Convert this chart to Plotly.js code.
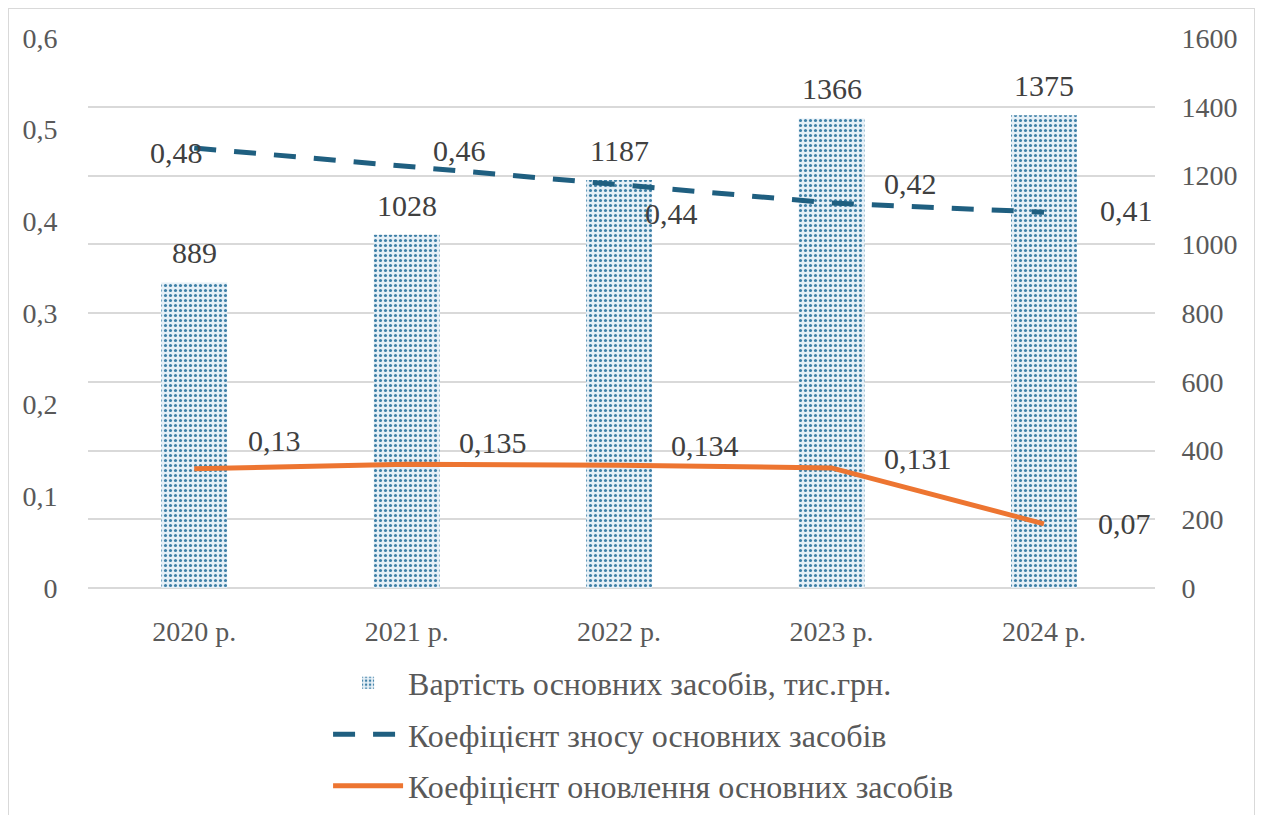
<!DOCTYPE html>
<html>
<head>
<meta charset="utf-8">
<script src="https://cdn.plot.ly/plotly-3.0.1.min.js"></script>
<style>
html,body{margin:0;padding:0;background:#fff;overflow:hidden;}
#chart{position:absolute;left:8px;top:8px;width:1245px;height:812px;border:1px solid #d9d9d9;}
</style>
</head>
<body>
<div id="chart"></div>
<script>
const years = ['2020 р.', '2021 р.', '2022 р.', '2023 р.', '2024 р.'];
const assetValue = [889, 1028, 1187, 1366, 1375];
const wearCoef = [0.48, 0.46, 0.44, 0.42, 0.41];
const renewCoef = [0.13, 0.135, 0.134, 0.131, 0.07];
const leftTicks = [0, 0.1, 0.2, 0.3, 0.4, 0.5, 0.6];
const rightTicks = [0, 200, 400, 600, 800, 1000, 1200, 1400, 1600];
const seriesNames = ['Вартість основних засобів, тис.грн.', 'Коефіцієнт зносу основних засобів', 'Коефіцієнт оновлення основних засобів'];

const fmt = v => String(v).replace('.', ',');
const FONT = "'Liberation Serif', 'DejaVu Serif', serif";
const labelFont = {family: FONT, size: 30, color: '#404040'};

const traces = [
  {
    type: 'bar', x: years, y: assetValue, name: seriesNames[0], yaxis: 'y', width: 0.31,
    legendgroup: 'a',
    marker: {color: '#ffffff', line: {width: 0},
      pattern: {shape: '.', fgcolor: '#3d7fa6', bgcolor: '#e6f0f7', size: 5, solidity: 0.3}},
    hoverinfo: 'skip'
  },
  {
    type: 'scatter', mode: 'lines', x: years, y: wearCoef, name: seriesNames[1], yaxis: 'y2',
    legendgroup: 'b',
    line: {color: '#1f5f80', width: 5, dash: '22px,18px'}, hoverinfo: 'skip'
  },
  {
    type: 'scatter', mode: 'lines', x: years, y: renewCoef, name: seriesNames[2], yaxis: 'y2',
    legendgroup: 'c',
    line: {color: '#ed7531', width: 5}, hoverinfo: 'skip'
  }
];

const annotations = [];
years.forEach((c, i) => {
  annotations.push({x: c, y: assetValue[i], xref: 'x', yref: 'y', text: fmt(assetValue[i]),
    showarrow: false, yanchor: 'bottom', yshift: 11, font: labelFont});
});
const wearShift = [[11, -4, 'right'], [24, 16, 'left'], [24, -29, 'left'], [50, 20, 'left'], [54, 2, 'left']];
years.forEach((c, i) => {
  const s = wearShift[i];
  annotations.push({x: c, y: wearCoef[i], xref: 'x', yref: 'y2', text: fmt(wearCoef[i]),
    showarrow: false, xanchor: s[2], xshift: s[0], yshift: s[1], font: labelFont});
});
const renewShift = [[52, 28], [50, 22], [50, 20], [50, 9], [52, 0]];
years.forEach((c, i) => {
  const s = renewShift[i];
  annotations.push({x: c, y: renewCoef[i], xref: 'x', yref: 'y2', text: fmt(renewCoef[i]),
    showarrow: false, xanchor: 'left', xshift: s[0], yshift: s[1], font: labelFont});
});

const layout = {
  width: 1245, height: 812,
  margin: {l: 79, r: 99, t: 29, b: 233},
  paper_bgcolor: '#ffffff', plot_bgcolor: '#ffffff',
  separators: ', ',
  font: {family: FONT, size: 28, color: '#595959'},
  showlegend: true,
  xaxis: {type: 'category', showgrid: false, zeroline: false, showline: false,
    ticks: 'outside', ticklen: 18, tickcolor: 'rgba(0,0,0,0)',
    tickfont: {family: FONT, size: 28, color: '#595959'}},
  yaxis: {side: 'right', range: [0, 1600], tickvals: rightTicks, ticktext: rightTicks.map(String),
    showgrid: true, gridcolor: '#d9d9d9', gridwidth: 2, zeroline: true, zerolinecolor: '#d9d9d9', zerolinewidth: 2,
    showline: false,
    ticks: 'outside', ticklen: 20, tickcolor: 'rgba(0,0,0,0)',
    tickfont: {family: FONT, size: 28, color: '#595959'}},
  yaxis2: {overlaying: 'y', side: 'left', range: [0, 0.6], tickvals: leftTicks, ticktext: leftTicks.map(fmt),
    showgrid: false, zeroline: false, showline: false,
    ticks: 'outside', ticklen: 24, tickcolor: 'rgba(0,0,0,0)',
    tickfont: {family: FONT, size: 28, color: '#595959'}},
  legend: {orientation: 'v', x: 0.225, xanchor: 'left', yref: 'container', y: 0.204, yanchor: 'top',
    font: {family: FONT, size: 32, color: '#595959'}, tracegroupgap: 7, itemwidth: 70,
    bgcolor: 'rgba(0,0,0,0)'},
  annotations: annotations
};

Plotly.newPlot('chart', traces, layout, {staticPlot: true, displayModeBar: false});
</script>
</body>
</html>
